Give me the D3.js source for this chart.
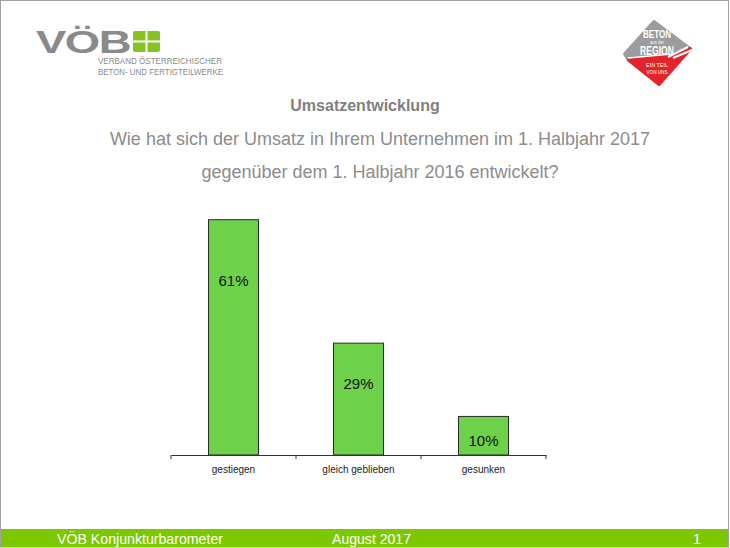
<!DOCTYPE html>
<html><head><meta charset="utf-8">
<script src="https://cdn.jsdelivr.net/npm/d3@7"></script>
<style>
html,body{margin:0;padding:0;background:#fff;}
svg{display:block;font-family:"Liberation Sans",Arial,sans-serif;}
</style></head>
<body>
<script>
const categories = ["gestiegen", "gleich geblieben", "gesunken"];
const values = [61, 29, 10];
const valueLabels = ["61%", "29%", "10%"];
const labelAt = [45.3, 18.4, 3.6];
const title = "Umsatzentwicklung";
const subtitle = ["Wie hat sich der Umsatz in Ihrem Unternehmen im 1. Halbjahr 2017", "gegenüber dem 1. Halbjahr 2016 entwickelt?"];
const footer = ["VÖB Konjunkturbarometer", "August 2017", "1"];

const W = 730, H = 548;
const svg = d3.select("body").append("svg").attr("width", W).attr("height", H);

// frame
svg.append("rect").attr("x",0.5).attr("y",0.5).attr("width",W-2).attr("height",H-1.5)
  .attr("fill","#fff").attr("stroke","#a0a0a0");

// VÖB logo
const lg = svg.append("g");
lg.append("text").attr("x",36).attr("y",53).attr("font-size",31).attr("font-weight","bold")
  .attr("fill","#8a8a8a").attr("letter-spacing",-1).attr("textLength",94).attr("lengthAdjust","spacingAndGlyphs")
  .text("VÖB");
lg.append("rect").attr("x",133).attr("y",31).attr("width",27).attr("height",21).attr("rx",2).attr("fill","#84c225");
lg.append("rect").attr("x",145.5).attr("y",31).attr("width",2).attr("height",21).attr("fill","#fff");
lg.append("rect").attr("x",133).attr("y",40.5).attr("width",27).attr("height",2).attr("fill","#fff");
lg.append("text").attr("x",98).attr("y",64).attr("font-size",9).attr("fill","#8a8a8a")
  .attr("textLength",124).attr("lengthAdjust","spacingAndGlyphs").text("VERBAND ÖSTERREICHISCHER");
lg.append("text").attr("x",98).attr("y",75).attr("font-size",9).attr("fill","#8a8a8a")
  .attr("textLength",125).attr("lengthAdjust","spacingAndGlyphs").text("BETON- UND FERTIGTEILWERKE");

// Beton logo
const rg = svg.append("g");
rg.append("path").attr("d","M654,22 L690,49 L673,55 L629,60 L625,54 Z").attr("fill","#9b9c9e")
  .attr("stroke","#9b9c9e").attr("stroke-width",4).attr("stroke-linejoin","round");
rg.append("path").attr("d","M629,60 L673,55 L690,49 L659,84 Z").attr("fill","#e3242b")
  .attr("stroke","#e3242b").attr("stroke-width",4).attr("stroke-linejoin","round");
rg.append("path").attr("d","M668,57 L688,47 M673,58 L692,50").attr("stroke","#fff").attr("stroke-width",2);
rg.append("path").attr("d","M628,58 L672,54").attr("stroke","#fff").attr("stroke-width",1.5);
const rt = [["BETON",38,11,"bold",28],["aus der",44,4.5,"normal",14],["REGION",55,12,"bold",34],["EIN TEIL",67,6,"normal",22],["VON UNS",74,6,"normal",21]];
rt.forEach(d=>rg.append("text").attr("x",657).attr("y",d[1]).attr("text-anchor","middle")
  .attr("font-size",d[2]).attr("font-weight",d[3]).attr("fill","#fff")
  .attr("textLength",d[4]).attr("lengthAdjust","spacingAndGlyphs").text(d[0]));

// titles
svg.append("text").attr("x",365).attr("y",111).attr("text-anchor","middle").attr("font-size",16)
  .attr("font-weight","bold").attr("fill","#7f7f7f").text(title);
subtitle.forEach((s,i)=>svg.append("text").attr("x",380).attr("y",145+i*33).attr("text-anchor","middle")
  .attr("font-size",18).attr("fill","#8c8c8c").text(s));

// chart
const x = d3.scaleBand().domain(categories).range([171,546]).paddingInner(0).paddingOuter(0);
const y = d3.scaleLinear().domain([0,70]).range([455,185]);
const bw = 50;
const g = svg.append("g");
g.selectAll("rect.bar").data(values).join("rect").attr("class","bar")
  .attr("x",(d,i)=>x(categories[i])+x.bandwidth()/2-bw/2).attr("width",bw)
  .attr("y",d=>y(d)).attr("height",d=>y(0)-y(d))
  .attr("fill","#6dd24a").attr("stroke","#2a2a2a").attr("stroke-width",1);
g.selectAll("text.val").data(labelAt).join("text").attr("class","val")
  .attr("x",(d,i)=>x(categories[i])+x.bandwidth()/2).attr("y",d=>y(d)).attr("dy","0.35em")
  .attr("text-anchor","middle").attr("font-size",15).attr("fill","#111").text((d,i)=>valueLabels[i]);

const ax = svg.append("g").attr("transform",`translate(0,${y(0)})`)
  .call(d3.axisBottom(x).tickSize(0).tickPadding(11));
ax.select(".domain").attr("stroke","#333");
ax.selectAll("text").attr("font-size",10).attr("fill","#222").attr("font-family","Liberation Sans,Arial,sans-serif");
const edges = [171].concat(categories.map(c=>x(c)+x.bandwidth()));
svg.append("g").selectAll("line").data(edges).join("line")
  .attr("x1",d=>d).attr("x2",d=>d).attr("y1",y(0)).attr("y2",y(0)+4).attr("stroke","#333");

// footer
svg.append("rect").attr("x",1).attr("y",529).attr("width",W-3).attr("height",18).attr("fill","#7cc800");
const fp = [[57,"start",166],[332,"start",79],[701,"end",null]];
fp.forEach((p,i)=>{
  const t = svg.append("text").attr("x",p[0]).attr("y",544).attr("text-anchor",p[1])
    .attr("font-size",15).attr("fill","#fff").text(footer[i]);
  if (p[2]) t.attr("textLength",p[2]).attr("lengthAdjust","spacingAndGlyphs");
});
</script>
</body></html>
